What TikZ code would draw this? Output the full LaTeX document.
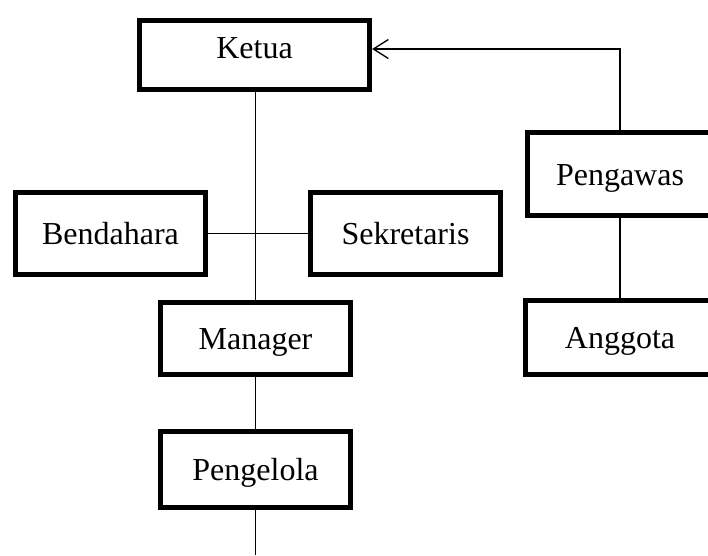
\documentclass[tikz,border=0pt]{standalone}
\usepackage{fontspec}
\setmainfont{Liberation Serif}
\usetikzlibrary{arrows.meta}
\begin{document}
\begin{tikzpicture}[x=1pt,y=-1pt,
  box/.style={draw,line width=4.8pt,inner sep=0pt,font=\fontsize{32}{36}\selectfont,text height=22pt,text depth=0pt},
  conn/.style={line width=1.6pt},
  arr/.style={line width=1.3pt,-{Straight Barb[length=15pt,width=19pt]}}]
\useasboundingbox (0,0) rectangle (708,555);
\clip (0,0) rectangle (708,555);
\node[box,minimum width=230.5pt,minimum height=69.5pt,text height=20pt,text depth=14pt] (ketua) at (254.5,55) {Ketua};
\node[box,minimum width=190.5pt,minimum height=82.5pt] (bendahara) at (110.5,233.5) {Bendahara};
\node[box,minimum width=190.5pt,minimum height=82.5pt] (sekretaris) at (405.5,233.5) {Sekretaris};
\node[box,minimum width=190.5pt,minimum height=72.5pt] (manager) at (255.5,338.5) {Manager};
\node[box,minimum width=190.5pt,minimum height=76.5pt] (pengelola) at (255.5,469.5) {Pengelola};
\node[box,minimum width=185.5pt,minimum height=83.5pt] (pengawas) at (620,174) {Pengawas};
\node[box,minimum width=189.5pt,minimum height=74.5pt] (anggota) at (620,337.5) {Anggota};
\coordinate (bottomend) at (255.5,555);
\draw[conn] (manager.north) -- (manager.north |- ketua.south);
\draw[conn] (bendahara.east) -- (sekretaris.west);
\draw[conn] (manager.south) -- (pengelola.north);
\draw[conn] (pengelola.south) -- (bottomend);
\draw[conn] (pengawas.south) -- (anggota.north);
\draw[arr] (pengawas.north) |- ([yshift=6pt]ketua.east);
\end{tikzpicture}
\end{document}
